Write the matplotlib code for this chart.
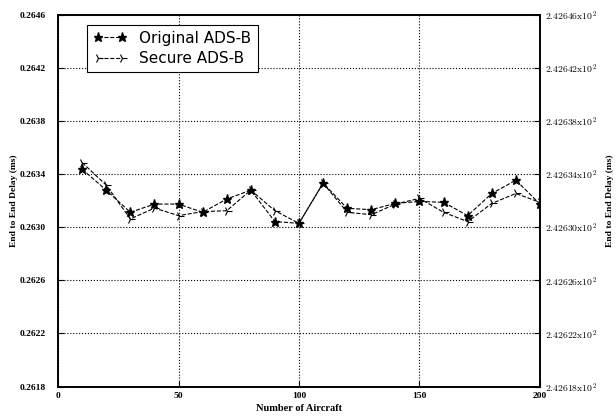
import matplotlib.pyplot as plt
import numpy as np

plt.rcParams['mathtext.fontset'] = 'cm'

# data
aircraft = [10, 20, 30, 40, 50, 60, 70, 80, 90, 100,
            110, 120, 130, 140, 150, 160, 170, 180, 190, 200]
original = [0.263438, 0.263280, 0.263113, 0.263175, 0.263175, 0.263113, 0.263213,
            0.263280, 0.263043, 0.263030, 0.263333, 0.263143, 0.263133, 0.263180,
            0.263195, 0.263188, 0.263088, 0.263255, 0.263355, 0.263175]
secure = [0.263488, 0.263318, 0.263063, 0.263145, 0.263088, 0.263118, 0.263125,
          0.263280, 0.263125, 0.263030, 0.263333, 0.263113, 0.263095, 0.263175,
          0.263218, 0.263113, 0.263043, 0.263180, 0.263255, 0.263188]

y_ticks = [0.2618, 0.2622, 0.2626, 0.2630, 0.2634, 0.2638, 0.2642, 0.2646]
x_ticks = [0, 50, 100, 150, 200]
right_labels = ["2.42618", "2.42622", "2.42626", "2.42630",
                "2.42634", "2.42638", "2.42642", "2.42646"]

fig = plt.figure(figsize=(6.16, 4.17), dpi=100)
ax = fig.add_axes([0.0942, 0.0731, 0.7824, 0.8909])

ax.plot(aircraft, original, 'k--', marker='*', markersize=6.5, linewidth=0.8,
        label='Original ADS-B')
ax.plot(aircraft, secure, 'k--', marker='4', markersize=7, linewidth=0.8,
        markeredgewidth=0.8, label='Secure ADS-B')

ax.set_xlim(0, 200)
ax.set_ylim(0.2618, 0.2646)
ax.set_xticks(x_ticks)
ax.set_yticks(y_ticks)
ax.set_yticklabels(["%.4f" % v for v in y_ticks])
ax.grid(True, color='k', linestyle=':', linewidth=0.8)

serif = ['Liberation Serif', 'DejaVu Serif']
for lab in ax.get_xticklabels() + ax.get_yticklabels():
    lab.set_family(serif)
    lab.set_fontweight('bold')
    lab.set_fontsize(6.8)
ax.tick_params(direction='in', length=4)
ax.tick_params(axis='y', pad=9)
ax.tick_params(axis='x', pad=4)

ax.set_xlabel('Number of Aircraft', family=serif, fontweight='bold', fontsize=7.5)
ax.xaxis.set_label_coords(0.5, -0.048)
ax.set_ylabel('End to End Delay (ms)', family=serif, fontweight='bold', fontsize=6.8)
ax.yaxis.set_label_coords(-0.084, 0.5)

ax2 = ax.twinx()
ax2.set_ylim(0.2618, 0.2646)
ax2.set_yticks(y_ticks)
ax2.set_yticklabels([r"$%s\mathrm{x}10^2$" % s for s in right_labels], fontsize=7.0)
ax2.tick_params(direction='in', length=4, pad=3.5)
ax2.set_ylabel('End to End Delay (ms)', family=serif, fontweight='bold', fontsize=6.8)
ax2.yaxis.set_label_coords(1.136, 0.5)

for a in (ax, ax2):
    for s in a.spines.values():
        s.set_linewidth(1.2)

leg = ax.legend(loc='upper left', numpoints=2, fontsize=11, fancybox=False,
                edgecolor='k', framealpha=1, bbox_to_anchor=(0.045, 0.995),
                handlelength=2.2, borderpad=0.4, labelspacing=0.35)
leg.get_frame().set_linewidth(0.8)

fig.savefig('out.png', dpi=100)
